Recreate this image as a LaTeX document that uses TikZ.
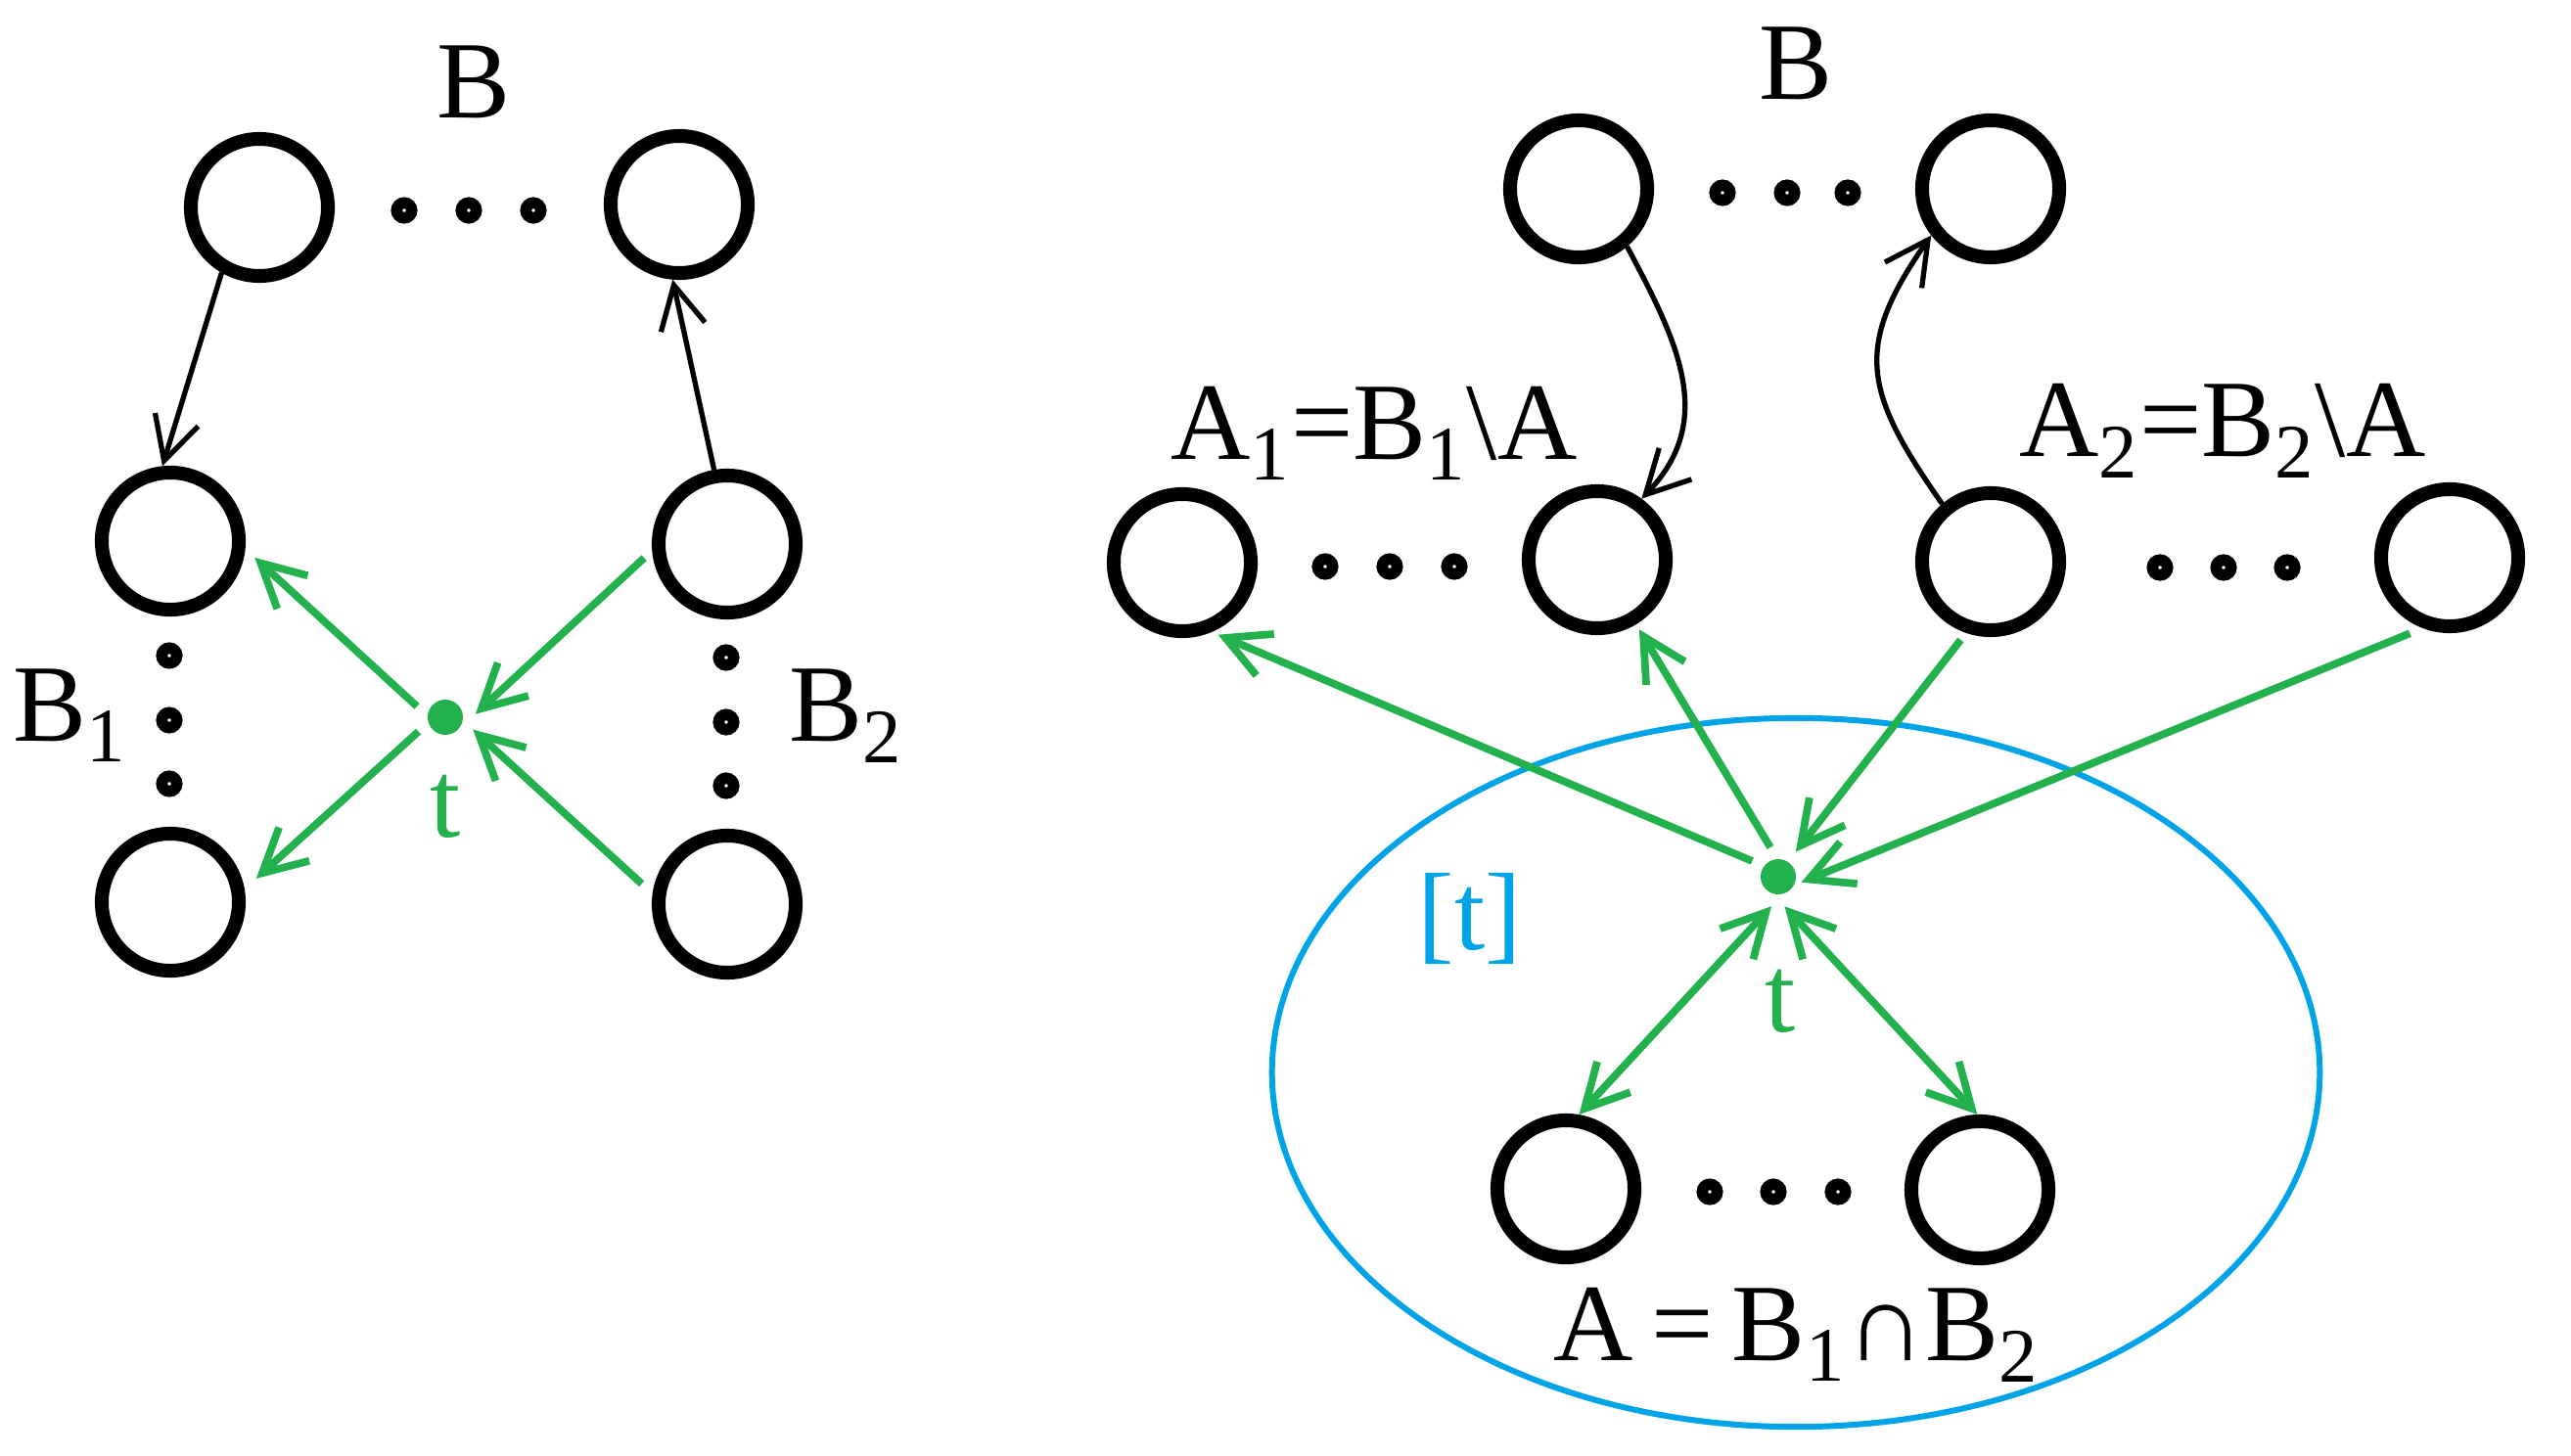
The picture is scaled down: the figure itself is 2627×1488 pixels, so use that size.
\documentclass[tikz,border=0pt]{standalone}
\usepackage{fontspec}
\setmainfont{Liberation Serif}
\usetikzlibrary{arrows.meta}
\definecolor{paintgreen}{RGB}{34,177,76}
\definecolor{paintblue}{RGB}{0,162,232}

\begin{document}
\begin{tikzpicture}[x = 0.01cm, y = -0.01cm,
    vertex/.style = {circle, draw = black, line width = 4pt, inner sep = 0pt, minimum size = 1.4cm},
    gap/.style = {circle, draw = black, fill = white, line width = 3.3pt, inner sep = 0pt, minimum size = 0.154cm},
    tpoint/.style = {circle, fill = paintgreen, inner sep = 0pt, minimum size = 0.36cm, outer sep = 0.13cm},
    lbl/.style = {inner sep = 0pt, font = \fontsize{32}{38}\selectfont},
    tlbl/.style = {lbl, text = paintgreen, anchor = base},
    barb/.style = {-{Straight Barb[length = 4.4mm, width = 4.6mm]}, line width = 1.5pt},
    gbarb/.style = {barb, draw = paintgreen, line width = 2.2pt},
    dgbarb/.style = {gbarb, {Straight Barb[length = 4.4mm, width = 4.6mm]}-{Straight Barb[length = 4.4mm, width = 4.6mm]}}]
 \useasboundingbox (0,0) rectangle (2627,1488);

 \node[vertex] (bl) at (265,212) {};
 \node[vertex] (br) at (694,209) {};
 \foreach \x [count = \i] in {413,479,545} \node[gap] (bdot\i) at (\x,215) {};
 \node[vertex] (b1top) at (174,553) {};
 \node[vertex] (b1bot) at (174,922) {};
 \node[vertex] (b2top) at (743,556) {};
 \node[vertex] (b2bot) at (743,924) {};
 \foreach \y [count = \i] in {670,736,801} \node[gap] (b1dot\i) at (173,\y) {};
 \foreach \y [count = \i] in {672,738,803} \node[gap] (b2dot\i) at (742,\y) {};
 \node[tpoint] (t) at (455,733) {};

 \node[lbl, anchor = base] (bname) at (484,121) {B};
 \node[lbl, anchor = base west] (b1name) at (13,757) {B\textsubscript{1}};
 \node[lbl, anchor = base west] (b2name) at (806,757) {B\textsubscript{2}};
 \node[tlbl] (tname) at (455,855) {t};

 \draw[barb] (bl.-120) -- (b1top.96);
 \draw[barb] (b2top.100) -- (br.-95);
 \draw[gbarb, shorten > = 0.13cm] (t.159) -- (b1top.-6);
 \draw[gbarb, shorten > = 0.16cm] (t.-152) -- (b1bot.10);
 \draw[gbarb, shorten < = 0.11cm] (b2top.-175) -- (t.6);
 \draw[gbarb, shorten < = 0.15cm] (b2bot.172.5) -- (t.-24);

 \draw[paintblue, line width = 1.7pt] (1835,1096) ellipse [x radius = 5.35cm, y radius = 3.62cm];

 \node[vertex] (rbl) at (1613,193) {};
 \node[vertex] (rbr) at (2034,193) {};
 \foreach \x [count = \i] in {1760,1826,1888} \node[gap] (rbdot\i) at (\x,197) {};
 \node[vertex] (ronel) at (1208,575) {};
 \node[vertex] (roner) at (1632,572) {};
 \foreach \x [count = \i] in {1354,1420,1486} \node[gap] (ronedot\i) at (\x,579) {};
 \node[vertex] (rtwol) at (2034,574) {};
 \node[vertex] (rtwor) at (2503,570) {};
 \foreach \x [count = \i] in {2207,2272,2337} \node[gap] (rtwodot\i) at (\x,580) {};
 \node[vertex] (rinl) at (1600,1215) {};
 \node[vertex] (rinr) at (2023,1216) {};
 \foreach \x [count = \i] in {1747,1812,1878} \node[gap] (rindot\i) at (\x,1218) {};
 \node[tpoint] (rt) at (1817,896) {};

 \node[lbl, anchor = base] (rbname) at (1835,102) {B};
 \node[lbl, anchor = base west] (ronename) at (1196,469) {A\textsubscript{1}=B\textsubscript{1}\textbackslash A};
 \node[lbl, anchor = base west] (rtwoname) at (2063,466) {A\textsubscript{2}=B\textsubscript{2}\textbackslash A};
 \node[lbl, anchor = base west] (rinname) at (1587,1390) {A\,=\,B\textsubscript{1}∩B\textsubscript{2}};
 \node[lbl, anchor = base west, text = paintblue] (clsname) at (1448,970) {[t]};
 \node[tlbl] (rtname) at (1819,1054) {t};

 \draw[barb] (rbl.-50) to[out = -62, in = 46, looseness = 1.1] (roner.54);
 \draw[barb] (rtwol.130) to[out = 125, in = -125, looseness = 1.3] (rbr.-142);
 \draw[gbarb, shorten > = 0.07cm] (rt.149) -- (ronel.-67);
 \draw[gbarb, shorten > = 0.06cm] (rt.105) -- (roner.-59);
 \draw[gbarb, shorten < = 0.09cm] (rtwol.-109.5) -- (rt.55);
 \draw[gbarb, shorten < = 0.14cm, shorten > = -0.08cm] (rtwor.-111) -- (rt.-5);
 \draw[dgbarb] (rt.-103) -- (rinl.80);
 \draw[dgbarb] (rt.-78) -- (rinr.92);
\end{tikzpicture}
\end{document}
